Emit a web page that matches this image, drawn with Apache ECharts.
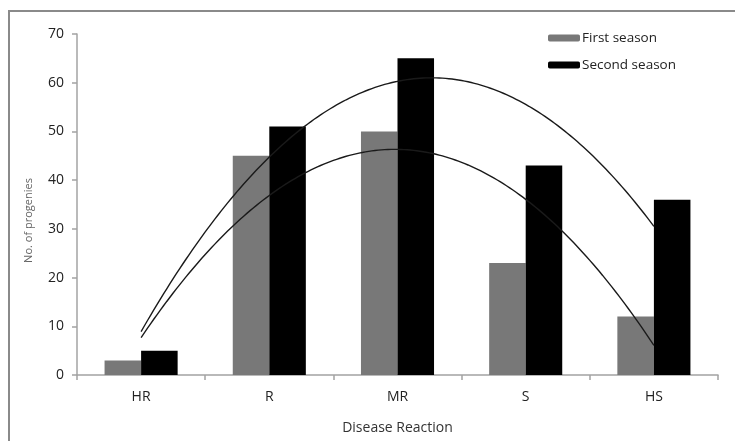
<!DOCTYPE html>
<html>
<head>
<meta charset="utf-8">
<style>
  html, body { margin: 0; padding: 0; background: #fff; }
  #chart { width: 735px; height: 441px; position: relative; }
  #frame { position: absolute; left: 8px; top: 10px; right: -2px; bottom: -2px;
           border-left: 2px solid #8a8a8a; border-top: 2px solid #8a8a8a; pointer-events: none; }
</style>
<script src="https://cdn.jsdelivr.net/npm/echarts@6/dist/echarts.min.js"></script>
</head>
<body>
<div id="chart"></div>
<script>
// Number of progenies per disease reaction class, over two seasons
const categories = ['HR', 'R', 'MR', 'S', 'HS'];
const firstSeason = [3, 45, 50, 23, 12];
const secondSeason = [5, 51, 65, 43, 36];
const yTicks = { min: 0, max: 70, interval: 10 };

// Second-order polynomial (least squares) trend line through a series
function quadraticTrend(values) {
  const n = values.length;
  const xs = values.map((_, i) => i + 1);
  const mx = xs.reduce((a, b) => a + b, 0) / n;
  const t = xs.map(x => x - mx);
  const mt2 = t.reduce((a, v) => a + v * v, 0) / n;
  const p2 = t.map(v => v * v - mt2);
  const my = values.reduce((a, b) => a + b, 0) / n;
  const b1 = t.reduce((a, v, i) => a + v * values[i], 0) / t.reduce((a, v) => a + v * v, 0);
  const c2 = p2.reduce((a, v, i) => a + v * values[i], 0) / p2.reduce((a, v) => a + v * v, 0);
  const pts = [];
  for (let k = 0; k <= 160; k++) {
    const x = 1 + (n - 1) * k / 160;
    const tt = x - mx;
    pts.push([x, my + b1 * tt + c2 * (tt * tt - mt2)]);
  }
  return pts;
}

const font = '"Open Sans", "DejaVu Sans", sans-serif';
const chart = echarts.init(document.getElementById('chart'), null, { renderer: 'canvas' });
chart.setOption({
  animation: false,
  backgroundColor: '#fff',
  textStyle: { fontFamily: font },
  legend: {
    orient: 'vertical',
    left: 543, top: 26,
    itemWidth: 32, itemHeight: 7, itemGap: 13,
    textStyle: { fontSize: 13.5, color: '#222', fontFamily: font, padding: [0, 0, 0, -3] },
    data: ['First season', 'Second season']
  },
  grid: { left: 77, right: 17, top: 34, bottom: 66, containLabel: false },
  xAxis: [
    {
      type: 'category',
      data: categories,
      name: 'Disease Reaction',
      nameLocation: 'middle',
      nameGap: 46,
      nameTextStyle: { fontSize: 14, color: '#333' },
      axisLine: { lineStyle: { color: '#a3a3a3', width: 1.5 } },
      axisTick: { show: true, length: 5, lineStyle: { color: '#a3a3a3', width: 1.5 } },
      axisLabel: { fontSize: 14, color: '#222', margin: 15 }
    },
    { type: 'value', min: 0.5, max: 5.5, show: false }
  ],
  yAxis: {
    type: 'value',
    min: yTicks.min, max: yTicks.max, interval: yTicks.interval,
    name: 'No. of progenies',
    nameLocation: 'middle',
    nameGap: 43,
    nameTextStyle: { fontSize: 11, color: '#666', padding: [0, 32, 0, 0] },
    axisLine: { show: true, lineStyle: { color: '#a3a3a3', width: 1.5 } },
    axisTick: { show: true, length: 5, lineStyle: { color: '#a3a3a3', width: 1.5 } },
    axisLabel: { fontSize: 14, color: '#222', margin: 13 },
    splitLine: { show: false }
  },
  series: [
    {
      name: 'First season', type: 'bar', data: firstSeason,
      barGap: '0%', barCategoryGap: '43%',
      itemStyle: { color: '#787878' }
    },
    {
      name: 'Second season', type: 'bar', data: secondSeason,
      barGap: '0%', barCategoryGap: '43%',
      itemStyle: { color: '#000' }
    },
    {
      name: 'First season trend', type: 'line', xAxisIndex: 1,
      data: quadraticTrend(firstSeason), symbol: 'none', z: 5,
      lineStyle: { color: '#1a1a1a', width: 1.4 }
    },
    {
      name: 'Second season trend', type: 'line', xAxisIndex: 1,
      data: quadraticTrend(secondSeason), symbol: 'none', z: 5,
      lineStyle: { color: '#1a1a1a', width: 1.4 }
    }
  ]
});
const frame = document.createElement('div');
frame.id = 'frame';
document.getElementById('chart').appendChild(frame);
</script>
</body>
</html>
